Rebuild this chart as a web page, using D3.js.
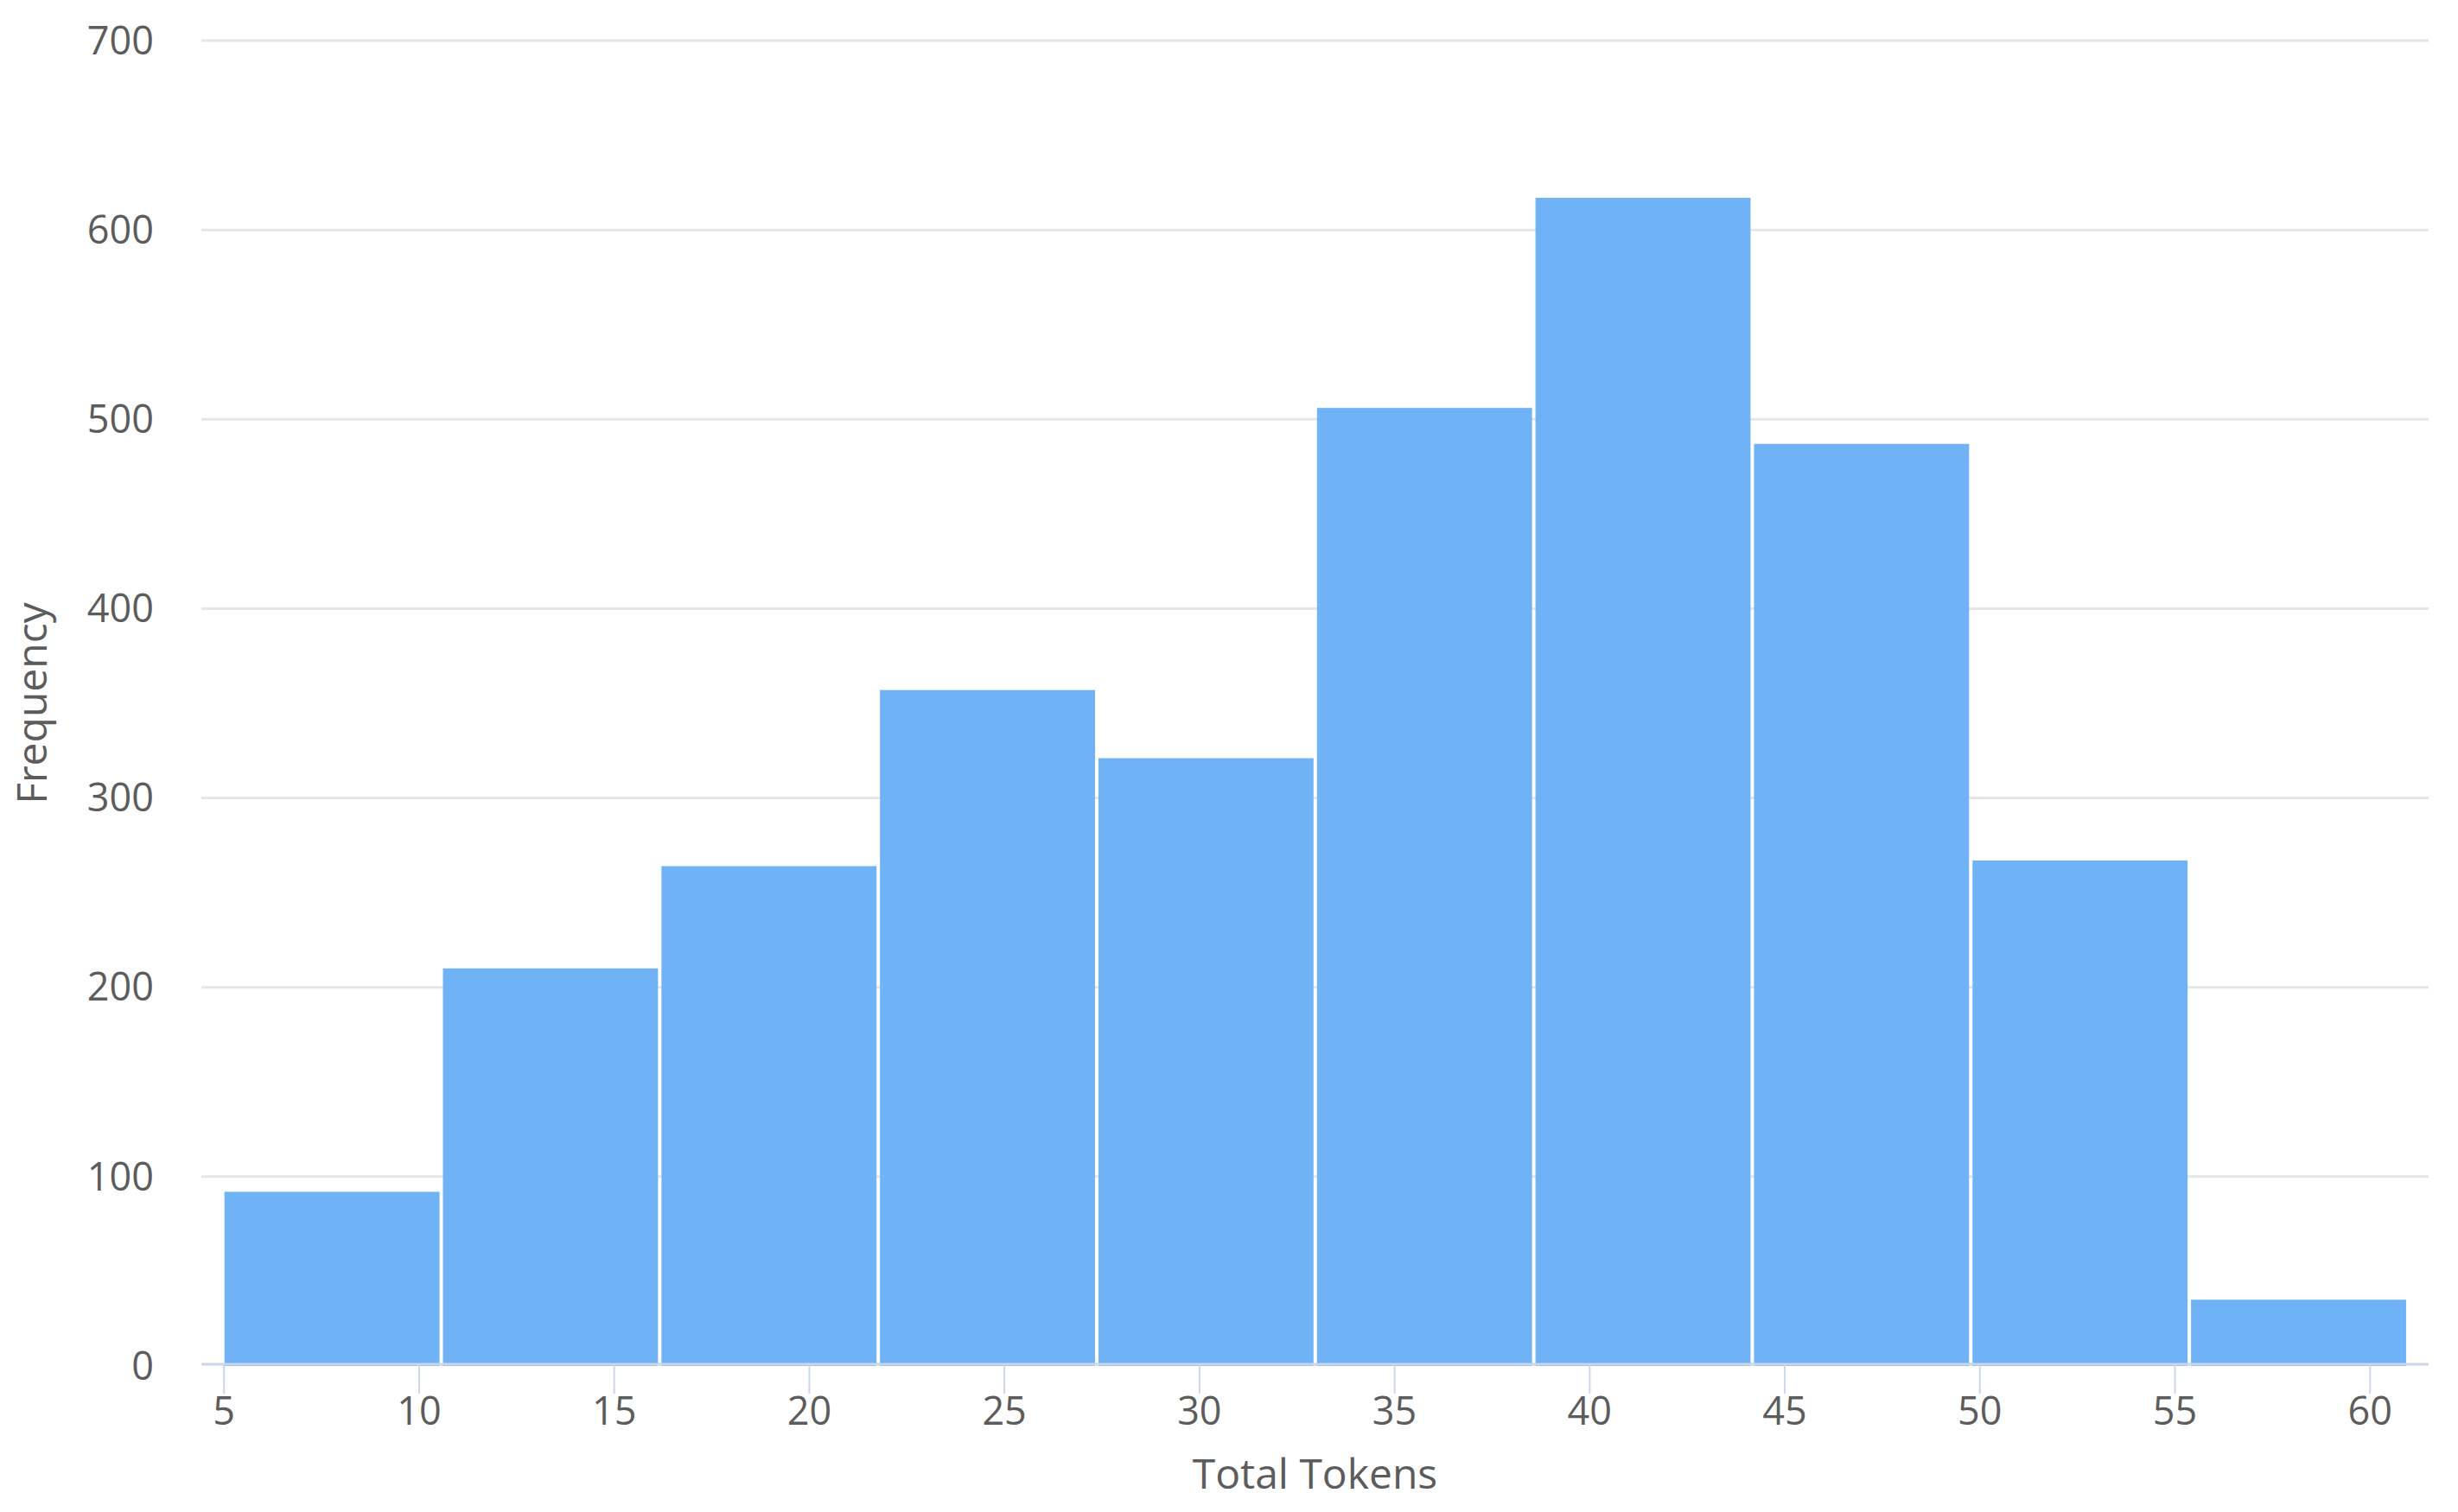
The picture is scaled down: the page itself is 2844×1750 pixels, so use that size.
<!DOCTYPE html>
<html>
<head>
<meta charset="utf-8">
<script src="https://cdn.jsdelivr.net/npm/d3@7"></script>
<style>
  html, body { margin: 0; padding: 0; background: #ffffff; }
  svg { display: block; }
  text { font-family: "Open Sans", "Noto Sans", sans-serif; fill: #5c5c5c; }
</style>
</head>
<body>
<script>
// ---- data ----
const binEdges = [5, 10.6, 16.2, 21.8, 27.4, 33, 38.6, 44.2, 49.8, 55.4, 61];
const frequencies = [92, 210, 264, 357, 321, 506, 617, 487, 267, 35];
const xTicks = [5, 10, 15, 20, 25, 30, 35, 40, 45, 50, 55, 60];
const yTicks = [0, 100, 200, 300, 400, 500, 600, 700];
const xTitle = "Total Tokens";
const yTitle = "Frequency";

// ---- layout ----
const W = 2844, H = 1750;
const plot = { left: 233, right: 2810, top: 47, bottom: 1581 };

const svg = d3.select("body").append("svg").attr("width", W).attr("height", H);

const x = d3.scaleLinear().domain([4.42, 61.5]).range([plot.left, plot.right]);
const y = d3.scaleLinear().domain([0, 700]).range([plot.bottom, plot.top]);

// gridlines
svg.append("g").selectAll("line").data(yTicks.filter(d => d > 0)).join("line")
  .attr("x1", plot.left).attr("x2", plot.right)
  .attr("y1", d => y(d)).attr("y2", d => y(d))
  .attr("stroke", "#e6e6e6").attr("stroke-width", 3);

// y labels
svg.append("g").selectAll("text").data(yTicks).join("text")
  .attr("x", 178).attr("y", d => y(d))
  .attr("dy", "0.35em")
  .attr("text-anchor", "end")
  .attr("font-size", 45)
  .text(d => d);

// bars
const bins = frequencies.map((v, i) => ({ x0: binEdges[i], x1: binEdges[i + 1], v }));
svg.append("g").selectAll("rect").data(bins).join("rect")
  .attr("x", d => x(d.x0) + 0.5)
  .attr("width", d => x(d.x1) - x(d.x0) - 4)
  .attr("y", d => y(d.v))
  .attr("height", d => y(0) - y(d.v))
  .attr("fill", "#6fb3f6");

// x axis line
svg.append("line")
  .attr("x1", plot.left).attr("x2", plot.right)
  .attr("y1", 1579).attr("y2", 1579)
  .attr("stroke", "#ccd6eb").attr("stroke-width", 3);

// x ticks
svg.append("g").selectAll("line").data(xTicks).join("line")
  .attr("x1", d => x(d)).attr("x2", d => x(d))
  .attr("y1", 1579).attr("y2", 1613)
  .attr("stroke", "#ccd6eb").attr("stroke-width", 2);

// x labels
svg.append("g").selectAll("text").data(xTicks).join("text")
  .attr("x", d => x(d)).attr("y", 1649)
  .attr("text-anchor", "middle")
  .attr("font-size", 45)
  .text(d => d);

// axis titles
svg.append("text")
  .attr("x", (plot.left + plot.right) / 2).attr("y", 1723)
  .attr("text-anchor", "middle")
  .attr("font-size", 48)
  .text(xTitle);

svg.append("text")
  .attr("transform", `translate(54, ${(plot.top + plot.bottom) / 2}) rotate(-90)`)
  .attr("text-anchor", "middle")
  .attr("font-size", 48)
  .text(yTitle);
</script>
</body>
</html>
